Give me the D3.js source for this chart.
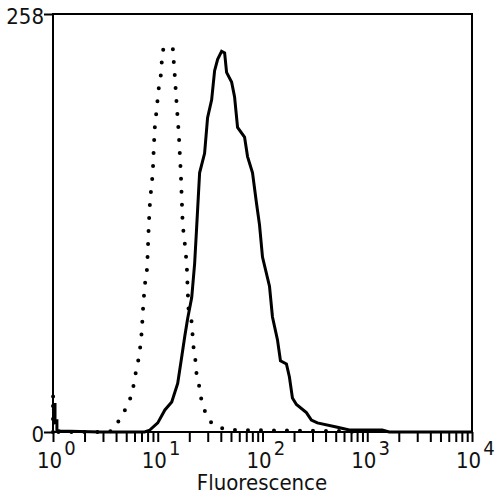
<!DOCTYPE html>
<html>
<head>
<meta charset="utf-8">
<script src="https://cdn.jsdelivr.net/npm/d3@7"></script>
<style>
body { margin: 0; background: #fff; }
text { font-family: "DejaVu Sans Condensed", "DejaVu Sans", sans-serif; font-stretch: condensed; fill: #111; }
</style>
</head>
<body>
<svg width="500" height="500"></svg>
<script>
// fluorescence intensity vs. event count
const stainedX = [1, 1.045, 1.045, 1.09, 1.09, 1.17, 2.8, 7.5, 8.4, 10, 11.7, 13.6, 15.5, 16.9, 18.1, 19.3, 21.1, 22.5, 23.5, 25.1,
    28.0, 29.9, 32.7, 34.9, 37.3, 40.7, 43.5, 45.4, 50.7, 54.1, 57.8, 67.4, 72.0, 80.3, 87.7, 93.6, 100, 116.6, 124.5,
    138.9, 148.4, 169.2, 180.7, 193.1, 210.8, 262.5, 292.8, 334.1, 506.8, 674, 1389, 1620, 10000];
const stainedY = [17, 17, 7, 7, 1, 0.6, 0, 0, 1.2, 5.6, 13.6, 18.5, 30, 46, 59, 70, 83, 104, 126, 160,
    172, 194, 205, 223, 230, 235, 234, 222, 216, 207, 188, 182, 170, 160, 141, 128, 108, 90, 71,
    57, 44, 42, 34, 21, 17, 12, 7.4, 5.6, 3.1, 1.2, 1.2, 0, 0];

const controlX = [1, 1, 1.045, 2.8, 3.65, 3.9, 4.54, 5.29, 5.78, 6.04, 6.45, 6.74, 7.04, 7.2, 7.36, 7.52, 7.86, 8.03, 8.2,
    8.39, 8.58, 8.96, 9.16, 9.36, 9.78, 10.2, 10.7, 10.9, 11.2, 12.45, 13.9, 14.2, 14.5, 15.2, 15.85, 16.6, 17.3, 18.1,
    18.9, 19.3, 19.7, 21.1, 21.5, 22.0, 23.0, 23.5, 25.1, 26.2, 28.6, 32.0, 36.5, 48.5, 541, 839];
const controlY = [0, 23, 0, 0, 0.6, 3.1, 9.9, 17.9, 25.9, 33.9, 42.6, 50, 62, 74, 82.7, 90.7, 98.8, 111, 127,
    139.5, 147.5, 159.5, 175, 187.6, 199.7, 211.7, 220.3, 227.7, 235.8, 238.2, 237.6, 229, 221, 201, 185, 160, 128, 116.6,
    104, 88, 75.3, 67.9, 59.9, 51.8, 43.2, 35.2, 27.2, 19.1, 11.7, 6.2, 3.1, 1.2, 0.6, 0];

const decades = [0, 1, 2, 3, 4];
const yTicks = [0, 258];

const svg = d3.select("svg");
const x = d3.scaleLog().domain([1, 10000]).range([53, 472]);
const y = d3.scaleLinear().domain([0, 258]).range([432, 14]);

// minor + major ticks on the log axis
const xTicks = [];
decades.slice(0, 4).forEach(d => {
    for (let m = 1; m < 10; m++) xTicks.push(m * Math.pow(10, d));
});
xTicks.push(10000);

const gx = svg.append("g")
    .attr("transform", "translate(0,432)")
    .call(d3.axisBottom(x).tickValues(xTicks).tickSize(10).tickFormat(""));
gx.select(".domain").remove();
gx.selectAll("line").attr("stroke", "#000").attr("stroke-width", 2);

const gy = svg.append("g")
    .attr("transform", "translate(53,0)")
    .call(d3.axisLeft(y).tickValues(yTicks).tickSize(9).tickPadding(0));
gy.select(".domain").remove();
gy.selectAll("line").attr("stroke", "#000").attr("stroke-width", 2);
gy.selectAll("text")
    .attr("font-size", 22)
    .attr("dy", "0.45em")
    .style("font-family", null);
gy.attr("font-family", null);

// frame
svg.append("rect")
    .attr("x", x(1)).attr("y", y(258))
    .attr("width", x(10000) - x(1)).attr("height", y(0) - y(258))
    .attr("fill", "none").attr("stroke", "#000").attr("stroke-width", 2);

// decade labels
const lab = svg.append("g").selectAll("text")
    .data(decades)
    .enter().append("text")
    .attr("x", d => x(Math.pow(10, d)) - 16)
    .attr("y", 468)
    .attr("font-size", 22);
lab.append("tspan").text("10");
lab.append("tspan").attr("dx", 2).attr("dy", -13).attr("font-size", 20).text(d => d);

svg.append("text")
    .attr("x", 262).attr("y", 490)
    .attr("text-anchor", "middle")
    .attr("font-size", 22)
    .text("Fluorescence");

const line = d3.line()
    .x(d => x(d[0]))
    .y(d => y(d[1]));

svg.append("path")
    .attr("d", line(d3.zip(controlX, controlY)))
    .attr("fill", "none")
    .attr("stroke", "#000")
    .attr("stroke-width", 4)
    .attr("stroke-linecap", "round")
    .attr("stroke-dasharray", "0,13");

svg.append("path")
    .attr("d", line(d3.zip(stainedX, stainedY)))
    .attr("fill", "none")
    .attr("stroke", "#000")
    .attr("stroke-width", 3)
    .attr("stroke-linejoin", "miter");
</script>
</body>
</html>
